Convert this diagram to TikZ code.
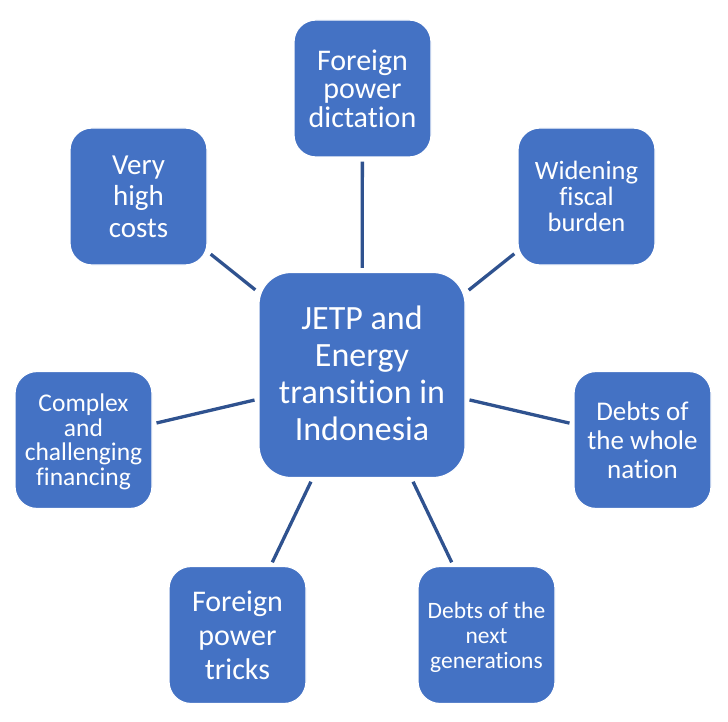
\documentclass[tikz,border=0pt]{standalone}
\usepackage{fontspec}
\setmainfont{Carlito}[Ligatures={NoCommon}]
\usetikzlibrary{positioning}
\definecolor{boxblue}{HTML}{4472C4}
\definecolor{linkblue}{HTML}{2F528F}
\tikzset{
  hub/.style={
    rectangle, rounded corners=32pt, draw=white, line width=1.2pt,
    fill=boxblue, text=white, minimum width=206pt, minimum height=205pt,
    align=center, font=\fontsize{34}{37}\selectfont
  },
  spoke/.style={
    rectangle, rounded corners=22pt, draw=white, line width=1.2pt,
    fill=boxblue, text=white, minimum width=137pt, minimum height=137pt,
    align=center
  },
  link/.style={draw=linkblue, line width=3.3pt, shorten <=4pt, shorten >=4pt}
}

\begin{document}
\begin{tikzpicture}[x=1pt, y=-1pt]
  \useasboundingbox (0,0) rectangle (728,722);

  % centre of the wheel
  \node[hub, text depth=4pt] (jetp) at (362,375) {JETP and\\Energy\\transition in\\Indonesia};

  % outer boxes, clockwise from the top
  \node[spoke, font=\fontsize{30}{28.5}\selectfont, text depth=-6pt] (dictation) at (362.5,88.5) {Foreign\\power\\dictation};
  \node[spoke, font=\fontsize{26.5}{26}\selectfont, text depth=-10pt] (fiscal) at (586.5,196.5) {Widening\\fiscal\\burden};
  \node[spoke, font=\fontsize{27}{29}\selectfont] (nation) at (642.5,440) {Debts of\\the whole\\nation};
  \node[spoke, font=\fontsize{23.5}{25}\selectfont, text depth=-1pt] (nextgen) at (486.5,635) {Debts of the\\next\\generations};
  \node[spoke, font=\fontsize{30}{34}\selectfont, text depth=-4pt] (tricks) at (237.5,635) {Foreign\\power\\tricks};
  \node[spoke, font=\fontsize{25.5}{24.5}\selectfont, text depth=1pt] (financing) at (83.5,440) {Complex\\and\\challenging\\financing};
  \node[spoke, font=\fontsize{29}{31.5}\selectfont, text depth=-6pt] (costs) at (138.5,196.5) {Very\\high\\costs};

  % spokes
  \foreach \n in {dictation,fiscal,nation,nextgen,tricks,financing,costs}
    \draw[link] (jetp) -- (\n);

\end{tikzpicture}
\end{document}
